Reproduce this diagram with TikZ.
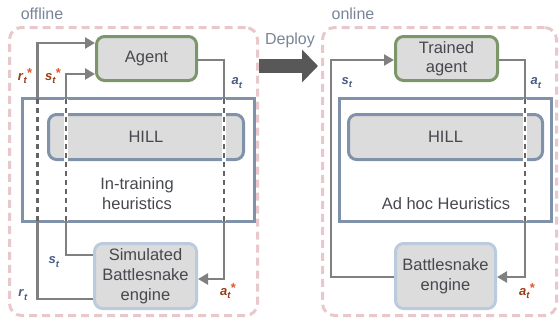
\documentclass[tikz,border=0pt]{standalone}
\usepackage{fontspec}
\setmainfont{Liberation Sans}
\usetikzlibrary{arrows.meta}
\definecolor{pinkd}{RGB}{233,200,204}
\definecolor{bluebd}{RGB}{128,146,170}
\definecolor{greenbd}{RGB}{125,150,105}
\definecolor{engbd}{RGB}{188,202,222}
\definecolor{boxfill}{RGB}{220,220,220}
\definecolor{linegray}{RGB}{128,128,128}
\definecolor{dashgray}{RGB}{100,100,100}
\definecolor{labbrown}{RGB}{150,62,20}
\definecolor{starred}{RGB}{225,85,40}
\definecolor{labblue}{RGB}{72,92,132}
\definecolor{txt}{RGB}{70,72,78}
\definecolor{captxt}{RGB}{120,132,152}
\definecolor{deparrow}{RGB}{88,88,88}
\newcommand{\sym}[1]{\textbf{\textit{#1}}\raisebox{-0.45ex}{\textbf{\textit{\fontsize{9.5}{9.5}\selectfont t}}}}
\newcommand{\stmark}{\raisebox{0.55ex}{\textcolor{starred}{\textbf{*}}}}
\begin{document}
\begin{tikzpicture}[x=1pt,y=-1pt,
  region/.style={draw=pinkd, line width=3pt, dash pattern=on 8pt off 5pt, rounded corners=12pt, inner sep=0pt},
  heurbox/.style={draw=bluebd, line width=3pt, inner sep=0pt},
  hillbox/.style={draw=bluebd, fill=boxfill, line width=3pt, rounded corners=8pt, text=txt, font=\fontsize{16.5}{19}\selectfont},
  agentbox/.style={draw=greenbd, fill=boxfill, line width=3pt, rounded corners=8pt, align=center, text=txt, inner sep=0pt, font=\fontsize{16.5}{19}\selectfont},
  enginebox/.style={draw=engbd, fill=boxfill, line width=3pt, rounded corners=8pt, align=center, text=txt, inner sep=0pt, font=\fontsize{16.5}{20}\selectfont},
  heurtext/.style={align=center, text=txt, inner sep=0pt, font=\fontsize{16.5}{20}\selectfont},
  conn/.style={draw=linegray, line width=2.8pt, -{Triangle[length=10pt,width=11pt]}},
  dashseg/.style={draw=dashgray, line width=2.8pt, dash pattern=on 5pt off 4pt},
  blank/.style={draw=white, line width=3.4pt},
  labb/.style={text=labbrown, font=\fontsize{13}{14}\selectfont, inner sep=0pt},
  labl/.style={text=labblue, font=\fontsize{13}{14}\selectfont, inner sep=0pt},
  caption/.style={text=captxt, font=\fontsize{16}{19}\selectfont, inner sep=0pt}
]
\useasboundingbox (0,0) rectangle (559,324);

% regions
\node[region, minimum width=248pt, minimum height=288pt] (off) at (133.5,171.5) {};
\node[region, minimum width=234pt, minimum height=288pt] (on) at (439.5,171.5) {};
\node[caption] (offlab) at (42,14) {offline};
\node[caption] (onlab) at (353,14) {online};

% left side
\node[heurbox, minimum width=232pt, minimum height=123pt] (heur1) at (138.5,160) {};
\node[hillbox, minimum width=195pt, minimum height=45pt] (hill1) at (146,137) {HILL};
\node[heurtext] (ht1) at (137,194) {In-training\\heuristics};
\node[agentbox, minimum width=100pt, minimum height=44pt] (agent1) at (146.5,58.5) {Agent};
\node[enginebox, minimum width=102pt, minimum height=65pt] (eng1) at (145.5,276) {Simulated\\Battlesnake\\engine};

% right side
\node[heurbox, minimum width=212pt, minimum height=123pt] (heur2) at (445.5,160) {};
\node[hillbox, minimum width=194pt, minimum height=45pt] (hill2) at (445.5,137) {HILL};
\node[heurtext] (ht2) at (446,204) {Ad hoc Heuristics};
\node[agentbox, minimum width=102pt, minimum height=44pt] (agent2) at (446.5,58.5) {Trained\\agent};
\node[enginebox, minimum width=100pt, minimum height=65pt] (eng2) at (445.5,276) {Battlesnake\\engine};

% deploy arrow
\draw[deparrow, line width=14pt, -{Triangle[length=16pt,width=32pt]}] (off.east |- 0,66) -- ([xshift=-3pt]on.west |- 0,66);
\node[caption] (deplab) at (290,40) {Deploy};

% left connectors
\draw[conn] (eng1.west |- 0,299) -| (37.5,43) -- (agent1.west |- 0,43);
\draw[conn] (eng1.west |- 0,255) -| (66,74) -- (agent1.west |- 0,74);
\draw[conn] (agent1.east |- 0,60) -| (224,279) -- (eng1.east |- 0,279);
\foreach \xx in {37.5,66,224}{
  \draw[blank] (\xx,99) -- (\xx,221);
  \draw[dashseg] (\xx,99) -- (\xx,221);
}

% right connectors
\draw[conn] (eng2.west |- 0,277) -| (331,60) -- (agent2.west |- 0,60);
\draw[conn] (agent2.east |- 0,60) -| (525,277) -- (eng2.east |- 0,277);
\draw[blank] (525,99) -- (525,221);
\draw[dashseg] (525,99) -- (525,221);

% labels
\node[labb] (lr1) at (25,76) {\sym{r}\stmark};
\node[labb] (ls1) at (53,76) {\sym{s}\stmark};
\node[labl] (la1) at (237,83) {\sym{a}};
\node[labl] (ls1b) at (54,262) {\sym{s}};
\node[labl] (lr1b) at (23,295) {\sym{r}};
\node[labb] (la1b) at (228,291) {\sym{a}\stmark};
\node[labl] (ls2) at (347,83) {\sym{s}};
\node[labl] (la2) at (536,83) {\sym{a}};
\node[labb] (la2b) at (527,291) {\sym{a}\stmark};
\end{tikzpicture}
\end{document}
